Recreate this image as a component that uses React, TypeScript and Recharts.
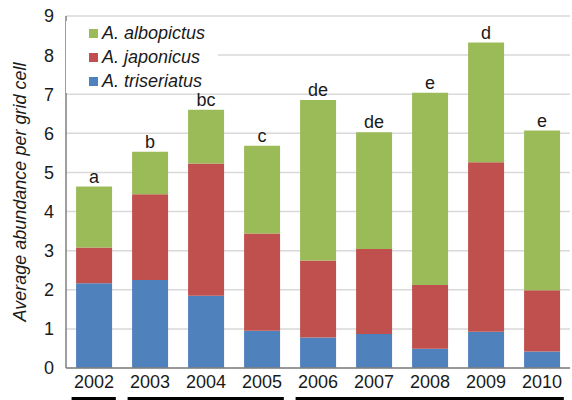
import React from "react";
import {
  BarChart,
  Bar,
  XAxis,
  YAxis,
  CartesianGrid,
  Legend,
  LabelList,
} from "recharts";

// Values (per-species share of each stacked bar)
const years = ["2002", "2003", "2004", "2005", "2006", "2007", "2008", "2009", "2010"];
const triseriatus = [2.17, 2.25, 1.85, 0.95, 0.78, 0.87, 0.49, 0.93, 0.42];
const japonicus = [0.91, 2.19, 3.38, 2.49, 1.97, 2.17, 1.63, 4.33, 1.57];
const albopictus = [1.56, 1.09, 1.37, 2.24, 4.1, 2.99, 4.92, 3.06, 4.08];
const letters = ["a", "b", "bc", "c", "de", "de", "e", "d", "e"];
// which underline group each year belongs to
const groups = [0, 1, 1, 1, 2, 2, 2, 2, 2];
const yTicks = [0, 1, 2, 3, 4, 5, 6, 7, 8, 9];
const legendOrder = ["A. albopictus", "A. japonicus", "A. triseriatus"];

const GREEN = "#9bbb59";
const RED = "#c0504d";
const BLUE = "#4f81bd";
const FONT = "'Liberation Sans', Arial, sans-serif";

const data = years.map((year, i) => ({
  year,
  triseriatus: triseriatus[i],
  japonicus: japonicus[i],
  albopictus: albopictus[i],
  letter: letters[i],
}));

interface TickProps {
  x?: number;
  y?: number;
  payload?: { value: string; index: number; offset?: number };
}

// year label plus the black bar that groups years underneath
const YearTick = ({ x = 0, y = 0, payload }: TickProps) => {
  const idx = payload?.index ?? 0;
  const half = payload?.offset || 28;
  const g = groups[idx];
  const first = idx === 0 || groups[idx - 1] !== g;
  const last = idx === groups.length - 1 || groups[idx + 1] !== g;
  const x1 = first ? x - half * 0.8 : x - half;
  const x2 = last ? x + half * 0.78 : x + half;
  return (
    <g>
      <text
        x={x}
        y={y}
        dy="0.71em"
        textAnchor="middle"
        fill="#1a1a1a"
        fontSize={18}
        fontFamily={FONT}
      >
        {payload?.value}
      </text>
      <rect x={x1} y={y + 22} width={x2 - x1} height={5} fill="#000" />
    </g>
  );
};

interface LegendItem {
  value?: string;
  color?: string;
}

const renderLegend = (props: { payload?: LegendItem[] }) => {
  const items = [...(props.payload ?? [])].sort(
    (a, b) =>
      legendOrder.indexOf(a.value ?? "") - legendOrder.indexOf(b.value ?? ""),
  );
  return (
    <div style={{ background: "#fff", paddingLeft: 23, fontFamily: FONT }}>
      {items.map((item) => (
        <div
          key={item.value}
          style={{ display: "flex", alignItems: "center", height: 24 }}
        >
          <span
            style={{
              width: 9,
              height: 9,
              background: item.color,
              display: "inline-block",
              marginRight: 4,
            }}
          />
          <span style={{ fontStyle: "italic", fontSize: 18, color: "#1a1a1a" }}>
            {item.value}
          </span>
        </div>
      ))}
    </div>
  );
};

export default function App() {
  return (
    <div style={{ position: "absolute", left: 0, top: 0, background: "#fff" }}>
      <BarChart
        width={572}
        height={400}
        data={data}
        margin={{ top: 16, right: 2, bottom: 2, left: 0 }}
        barCategoryGap="18%"
        style={{ fontFamily: FONT }}
      >
        <CartesianGrid vertical={false} stroke="#d9d9d9" strokeWidth={1.5} />
        <XAxis
          dataKey="year"
          height={30}
          axisLine={{ stroke: "#7f7f7f", strokeWidth: 1.5 }}
          tickLine={false}
          tickSize={0}
          tickMargin={7}
          interval={0}
          tick={<YearTick />}
        />
        <YAxis
          width={66}
          domain={[0, 9]}
          ticks={yTicks}
          interval={0}
          axisLine={{ stroke: "#7f7f7f", strokeWidth: 1.5 }}
          tickLine={false}
          tickSize={0}
          tickMargin={12}
          tick={{ fill: "#1a1a1a", fontSize: 18, fontFamily: FONT }}
          label={{
            value: "Average abundance per grid cell",
            angle: -90,
            position: "insideLeft",
            offset: 20,
            style: {
              textAnchor: "middle",
              fontStyle: "italic",
              fontSize: 18,
              fill: "#1a1a1a",
              fontFamily: FONT,
            },
          }}
        />
        <Legend
          layout="vertical"
          align="center"
          verticalAlign="middle"
          wrapperStyle={{ left: 66, top: 21, width: 152 }}
          content={renderLegend}
        />
        <Bar
          dataKey="triseriatus"
          name="A. triseriatus"
          stackId="a"
          fill={BLUE}
          isAnimationActive={false}
        />
        <Bar
          dataKey="japonicus"
          name="A. japonicus"
          stackId="a"
          fill={RED}
          isAnimationActive={false}
        />
        <Bar
          dataKey="albopictus"
          name="A. albopictus"
          stackId="a"
          fill={GREEN}
          isAnimationActive={false}
        >
          <LabelList
            dataKey="letter"
            position="top"
            offset={4}
            fill="#1a1a1a"
            fontSize={18}
            fontFamily={FONT}
          />
        </Bar>
      </BarChart>
    </div>
  );
}
